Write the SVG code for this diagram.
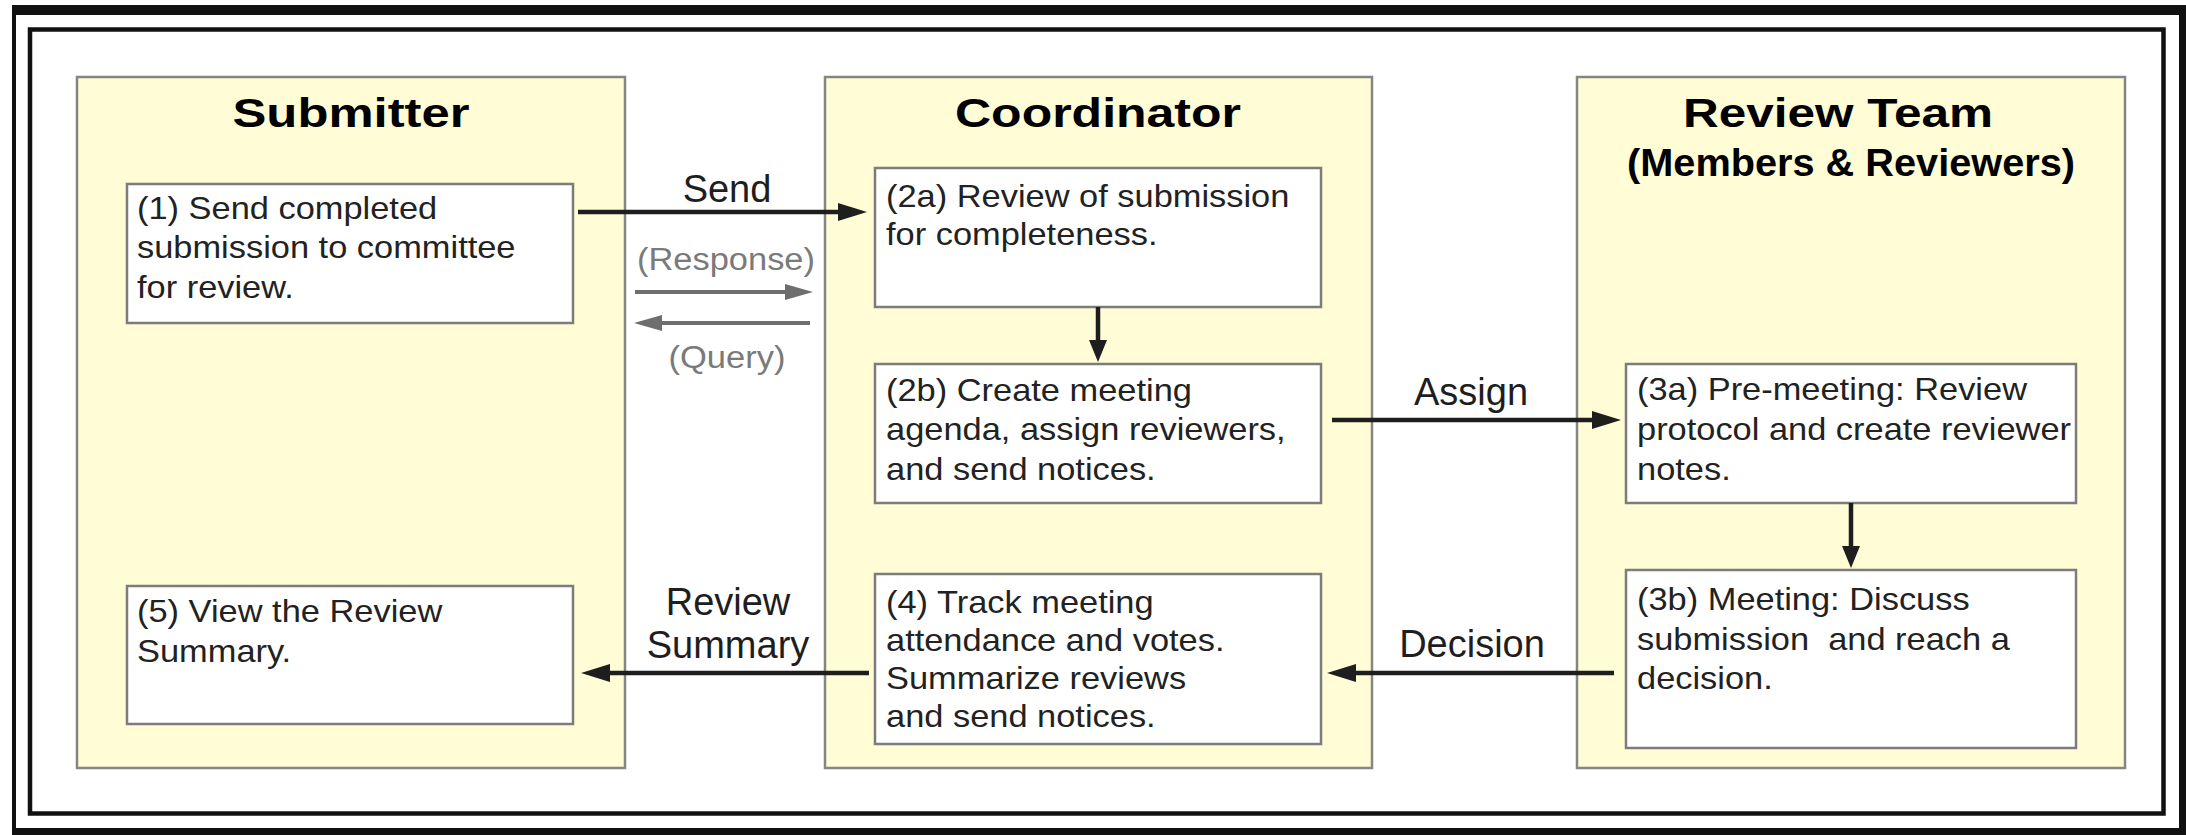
<svg xmlns="http://www.w3.org/2000/svg" width="2186" height="835" viewBox="0 0 2186 835">
  <style>
    text { font-family: "Liberation Sans", Arial, sans-serif; }
    .lane { fill: #fffcd6; stroke: #858585; stroke-width: 2.5; }
    .box { fill: #ffffff; stroke: #7c7c7c; stroke-width: 2.5; }
    .title { font-size: 41px; font-weight: bold; fill: #000; text-anchor: middle; }
    .subtitle { font-size: 38px; font-weight: bold; fill: #000; text-anchor: middle; }
    .body { font-size: 32px; fill: #222; }
    .label { font-size: 38px; fill: #1e1e1e; text-anchor: middle; }
    .note { font-size: 31px; fill: #7a7a7a; text-anchor: middle; }
    .flow { fill: none; stroke: #1e1e1e; stroke-width: 4.5; }
    .flow-gray { fill: none; stroke: #6e6e6e; stroke-width: 4; }
  </style>
  <defs>
    <marker id="head" markerUnits="userSpaceOnUse" markerWidth="30" markerHeight="20" refX="0" refY="10" orient="auto">
      <path d="M0,1 L29,10 L0,19 Z" fill="#1e1e1e"/>
    </marker>
    <marker id="head-short" markerUnits="userSpaceOnUse" markerWidth="24" markerHeight="20" refX="0" refY="10" orient="auto">
      <path d="M0,1 L22,10 L0,19 Z" fill="#1e1e1e"/>
    </marker>
    <marker id="head-gray" markerUnits="userSpaceOnUse" markerWidth="30" markerHeight="18" refX="0" refY="9" orient="auto">
      <path d="M0,1 L28,9 L0,17 Z" fill="#6e6e6e"/>
    </marker>
  </defs>

  <!-- page frame -->
  <rect width="2186" height="835" fill="#ffffff"/>
  <path d="M12,5 H2186 V835 H12 Z M16,15 V828 H2179 V15 Z" fill="#111" fill-rule="evenodd"/>
  <rect x="30" y="29.5" width="2133.5" height="784" fill="none" stroke="#111" stroke-width="4.5"/>

  <!-- swimlanes -->
  <g id="lane-submitter">
    <rect class="lane" x="77" y="77" width="548" height="691"/>
    <text class="title" x="351" y="127" textLength="237" lengthAdjust="spacingAndGlyphs">Submitter</text>
  </g>
  <g id="lane-coordinator">
    <rect class="lane" x="825" y="77" width="547" height="691"/>
    <text class="title" x="1098" y="127" textLength="286" lengthAdjust="spacingAndGlyphs">Coordinator</text>
  </g>
  <g id="lane-review-team">
    <rect class="lane" x="1577" y="77" width="548" height="691"/>
    <text class="title" x="1838" y="127" textLength="310" lengthAdjust="spacingAndGlyphs">Review Team</text>
    <text class="subtitle" x="1851" y="176" textLength="448" lengthAdjust="spacingAndGlyphs">(Members &amp; Reviewers)</text>
  </g>

  <!-- steps -->
  <g id="step-1">
    <rect class="box" x="127" y="184" width="446" height="139"/>
    <text class="body" transform="translate(137 0) scale(1.075 1)">
      <tspan x="0" y="219">(1) Send completed</tspan>
      <tspan x="0" y="258">submission to committee</tspan>
      <tspan x="0" y="298">for review.</tspan>
    </text>
  </g>
  <g id="step-5">
    <rect class="box" x="127" y="586" width="446" height="138"/>
    <text class="body" transform="translate(137 0) scale(1.075 1)">
      <tspan x="0" y="622">(5) View the Review</tspan>
      <tspan x="0" y="662">Summary.</tspan>
    </text>
  </g>
  <g id="step-2a">
    <rect class="box" x="875" y="168" width="446" height="139"/>
    <text class="body" transform="translate(886 0) scale(1.075 1)">
      <tspan x="0" y="207">(2a) Review of submission</tspan>
      <tspan x="0" y="245">for completeness.</tspan>
    </text>
  </g>
  <g id="step-2b">
    <rect class="box" x="875" y="364" width="446" height="139"/>
    <text class="body" transform="translate(886 0) scale(1.075 1)">
      <tspan x="0" y="401">(2b) Create meeting</tspan>
      <tspan x="0" y="440">agenda, assign reviewers,</tspan>
      <tspan x="0" y="480">and send notices.</tspan>
    </text>
  </g>
  <g id="step-4">
    <rect class="box" x="875" y="574" width="446" height="170"/>
    <text class="body" transform="translate(886 0) scale(1.075 1)">
      <tspan x="0" y="613">(4) Track meeting</tspan>
      <tspan x="0" y="651">attendance and votes.</tspan>
      <tspan x="0" y="689">Summarize reviews</tspan>
      <tspan x="0" y="727">and send notices.</tspan>
    </text>
  </g>
  <g id="step-3a">
    <rect class="box" x="1626" y="364" width="450" height="139"/>
    <text class="body" transform="translate(1637 0) scale(1.075 1)">
      <tspan x="0" y="400">(3a) Pre-meeting: Review</tspan>
      <tspan x="0" y="440">protocol and create reviewer</tspan>
      <tspan x="0" y="480">notes.</tspan>
    </text>
  </g>
  <g id="step-3b">
    <rect class="box" x="1626" y="570" width="450" height="178"/>
    <text class="body" transform="translate(1637 0) scale(1.075 1)" xml:space="preserve"><tspan x="0" y="610">(3b) Meeting: Discuss</tspan><tspan x="0" y="650">submission  and reach a</tspan><tspan x="0" y="689">decision.</tspan></text>
  </g>

  <!-- connectors -->
  <g id="connectors">
    <path class="flow" d="M578,212 H838" marker-end="url(#head)"/>
    <text class="label" x="727" y="202">Send</text>

    <path class="flow-gray" d="M635,292 H785" marker-end="url(#head-gray)"/>
    <text class="note" x="726" y="270" textLength="178" lengthAdjust="spacingAndGlyphs">(Response)</text>
    <path class="flow-gray" d="M810,323 H662" marker-end="url(#head-gray)"/>
    <text class="note" x="727" y="368" textLength="117" lengthAdjust="spacingAndGlyphs">(Query)</text>

    <path class="flow" d="M1098,307 V340" marker-end="url(#head-short)"/>

    <path class="flow" d="M1332,420 H1592" marker-end="url(#head)"/>
    <text class="label" x="1471" y="405">Assign</text>

    <path class="flow" d="M1851,503 V546" marker-end="url(#head-short)"/>

    <path class="flow" d="M1614,673 H1356" marker-end="url(#head)"/>
    <text class="label" x="1472" y="657">Decision</text>

    <path class="flow" d="M869,673 H610" marker-end="url(#head)"/>
    <text class="label" x="728" y="615">Review</text>
    <text class="label" x="728" y="658">Summary</text>
  </g>
</svg>
